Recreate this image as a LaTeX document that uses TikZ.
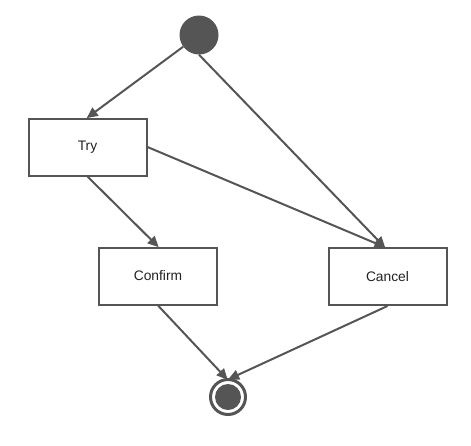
\documentclass[tikz,border=0pt]{standalone}
\usepackage{fontspec}
\setmainfont{Liberation Sans}
\usetikzlibrary{arrows.meta}
\definecolor{ln}{HTML}{555555}
\definecolor{tx}{HTML}{222222}
\tikzset{
  box/.style={draw=ln, line width=2pt, fill=white, minimum width=118pt, minimum height=57pt, inner sep=0pt, text=tx, font=\fontsize{13.8}{16}\selectfont},
  conn/.style={draw=ln, line width=2pt, -{Triangle[length=11pt,width=10pt]}, shorten >=-1pt},
  startnode/.style={circle, fill=ln, minimum size=39pt, inner sep=0pt},
  endnode/.style={circle, draw=ln, line width=3pt, minimum size=35pt, inner sep=0pt},
}
\begin{document}
\begin{tikzpicture}[x=1pt,y=-1pt]
\useasboundingbox (0,0) rectangle (471,445);
\node[startnode] (start) at (199,35) {};
\node[box] (try) at (87.5,147) {Try};
\node[box] (confirm) at (158,276) {Confirm};
\node[box] (cancel) at (387.5,276.5) {Cancel};
\node[endnode] (end) at (228,397) {};
\fill[ln] (end.center) circle (13);
\draw[conn] (start) -- (try.north);
\draw[conn] (start.south) -- ([xshift=-3pt]cancel.north);
\draw[conn] (try.east) -- ([xshift=-3pt]cancel.north);
\draw[conn] (try.south) -- (confirm.north);
\draw[conn] (confirm.south) -- ([xshift=-1pt,yshift=-1pt]end.north);
\draw[conn] (cancel.south) -- ([xshift=1pt,yshift=-1pt]end.north);
\end{tikzpicture}
\end{document}
